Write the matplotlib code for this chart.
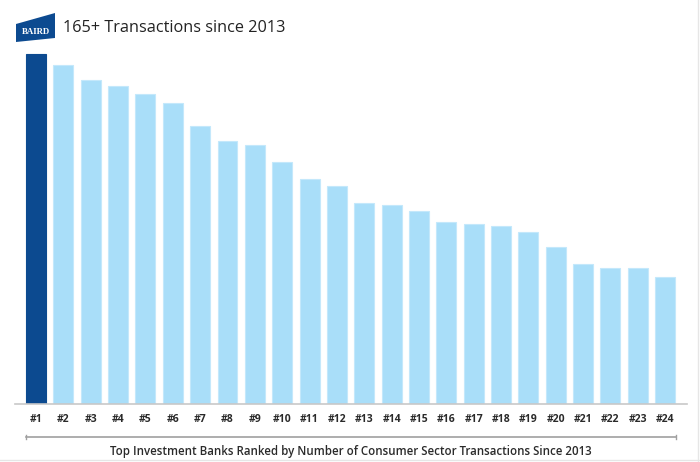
import matplotlib
matplotlib.use('Agg')
import matplotlib.pyplot as plt
from matplotlib.patches import Polygon
from matplotlib.lines import Line2D

ranks = ['#%d' % i for i in range(1, 25)]
deals = [165, 160, 153, 150, 146, 142, 131, 124, 122, 114, 106, 103,
         95, 94, 91, 86, 85, 84, 81, 74, 66, 64, 64, 60]
title = '165+ Transactions since 2013'
xlabel = 'Top Investment Banks Ranked by Number of Consumer Sector Transactions Since 2013'

W, H = 700, 462
fig = plt.figure(figsize=(7, 4.62), dpi=100)
plt.rcParams['font.family'] = ['Open Sans', 'DejaVu Sans']

# axes: left 15px, right 687px, baseline at 404px, 1 deal ~ 2.12 px
top_val = 170
ax_h = top_val * 2.12
ax = fig.add_axes([15 / W, (H - 404) / H, (687 - 15) / W, ax_h / H])

colors = ['#0c4a90'] + ['#a9def9'] * (len(deals) - 1)
edges = ['#0c4a90'] + ['#c4e8fb'] * (len(deals) - 1)
x = list(range(len(deals)))
ax.bar(x, deals, width=0.73, color=colors, edgecolor=edges, linewidth=0.8)
ax.set_xlim(-0.77, 23.8)
ax.set_ylim(0, top_val)
ax.set_xticks(x)
ax.set_xticklabels(ranks, fontsize=7.5, color='#2a2a2a', fontweight='bold')
ax.tick_params(axis='x', length=0, pad=7)
ax.set_yticks([])
for s in ['top', 'left', 'right']:
    ax.spines[s].set_visible(False)
ax.spines['bottom'].set_color('#c8c8c8')
ax.spines['bottom'].set_linewidth(1.2)

# bracket under the ticks
def fx(px):
    return px / W
def fy(py):
    return (H - py) / H

fig.add_artist(Line2D([fx(26), fx(676)], [fy(437), fy(437)], color='#a0a0a0', lw=1.2))
fig.add_artist(Line2D([fx(26), fx(26)], [fy(435), fy(439)], color='#a0a0a0', lw=1))
fig.add_artist(Line2D([fx(676), fx(676)], [fy(435), fy(439)], color='#a0a0a0', lw=1))
fig.text(fx(351), fy(451), xlabel, ha='center', va='center', fontsize=8.3,
         color='#2a2a2a', fontweight='semibold')

# logo and title
logo = Polygon([(fx(16), fy(24)), (fx(55), fy(13)), (fx(55), fy(38)), (fx(16), fy(42))],
               closed=True, transform=fig.transFigure, facecolor='#0c4a90', edgecolor='none')
fig.add_artist(logo)
fig.text(fx(35.5), fy(32), 'BAIRD', ha='center', va='center', fontsize=6.3,
         color='white', fontweight='bold', family=['Liberation Serif', 'DejaVu Serif'])
fig.text(fx(63), fy(28), title, ha='left', va='center', fontsize=11.7, color='#222222')

# faint frame at right and bottom edges
fig.add_artist(Line2D([fx(698), fx(698)], [0, 1], color='#e6e6e6', lw=1))
fig.add_artist(Line2D([0, 1], [fy(460), fy(460)], color='#e6e6e6', lw=1))

fig.savefig('out.png', dpi=100)
